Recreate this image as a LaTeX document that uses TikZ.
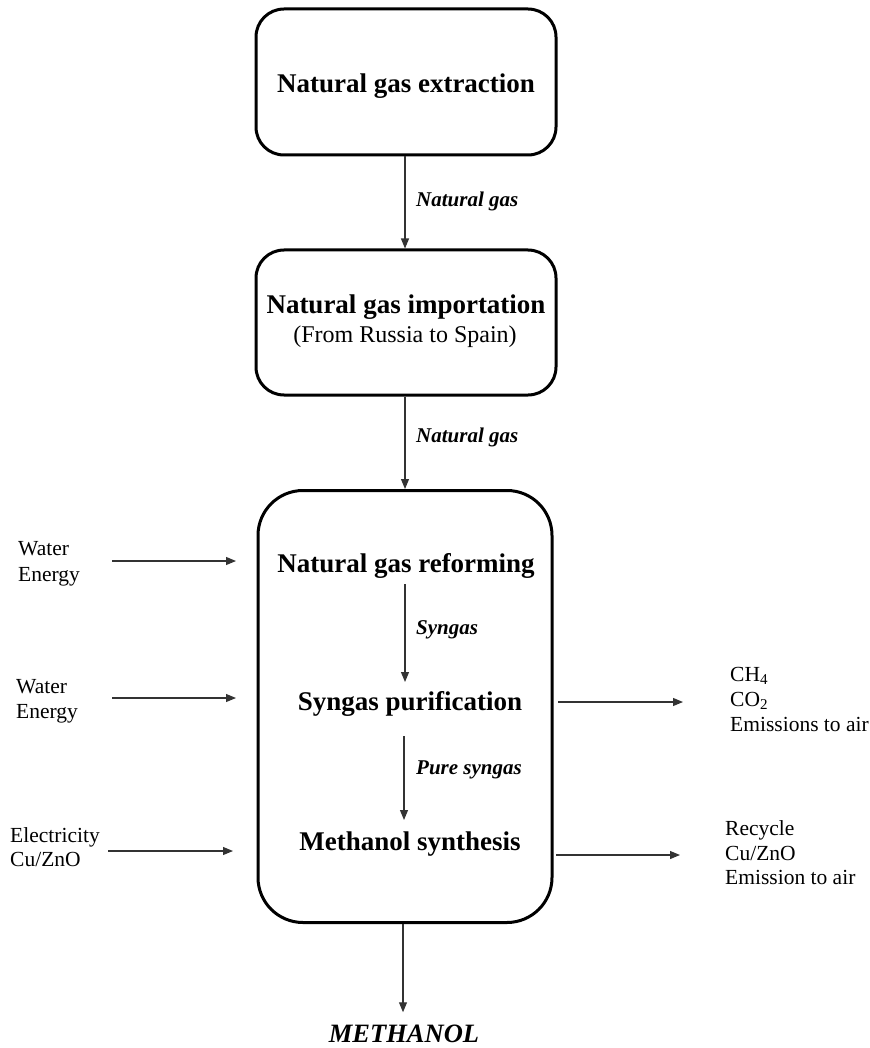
\documentclass[tikz,border=0pt]{standalone}
\usepackage{fontspec}
\setmainfont{Liberation Serif}
\usetikzlibrary{arrows.meta}
\begin{document}
\begin{tikzpicture}[x=1pt,y=-1pt,
  box/.style={draw, line width=3pt, inner sep=0pt},
  flow/.style={draw=black!80, line width=1.1pt, -{Triangle[length=10pt,width=8pt]}},
  ttl/.style={font=\fontsize{27}{32}\selectfont\bfseries, anchor=base, inner sep=0pt},
  lab/.style={font=\fontsize{21}{24}\selectfont\bfseries\itshape, anchor=base west, inner sep=0pt},
  side/.style={font=\fontsize{21.5}{25}\selectfont, anchor=base west, inner sep=0pt},
]
\useasboundingbox (0,0) rectangle (869,1048);

% boxes
\node[box, rounded corners=28pt, minimum width=300pt, minimum height=146pt] (b1) at (406,82) {};
\node[box, rounded corners=28pt, minimum width=300pt, minimum height=145pt] (b2) at (406,322.5) {};
\node[box, rounded corners=45pt, minimum width=294pt, minimum height=432pt] (b3) at (405,706.5) {};

% box texts
\node[ttl] (t1) at (406,93) {Natural gas extraction};
\node[ttl] (t2) at (406,313) {Natural gas importation};
\node[anchor=base, inner sep=0pt, font=\fontsize{24}{28}\selectfont] (t2b) at (405,342) {(From Russia to Spain)};
\node[ttl] (t3) at (406,572) {Natural gas reforming};
\node[ttl] (t4) at (410,710) {Syngas purification};
\node[ttl] (t5) at (410,850) {Methanol synthesis};
\node[anchor=base, inner sep=0pt, font=\fontsize{26.5}{30}\selectfont\bfseries\itshape] (meth) at (404,1042) {METHANOL};

% main vertical flows
\draw[flow] (b1.south -| 405,0) -- (b2.north -| 405,0);
\draw[flow] (b2.south -| 405,0) -- (b3.north -| 405,0);
\draw[flow, shorten >=12pt] (b3.south -| 403,0) -- (meth.north -| 403,0);
\node[lab] (l1) at (416,207) {Natural gas};
\node[lab] (l2) at (416,442) {Natural gas};

% internal flows
\coordinate (s1) at (405,584);
\coordinate (e1) at (405,682);
\coordinate (s2) at (404,736);
\coordinate (e2) at (404,820);
\draw[flow] (s1) -- (e1);
\draw[flow] (s2) -- (e2);
\node[lab] (l3) at (416,634) {Syngas};
\node[lab] (l4) at (416,774) {Pure syngas};

% inputs
\coordinate (i1s) at (112,561); \coordinate (i1e) at (236,561);
\coordinate (i2s) at (112,698); \coordinate (i2e) at (236,698);
\coordinate (i3s) at (108,851); \coordinate (i3e) at (233,851);
\draw[flow] (i1s) -- (i1e);
\draw[flow] (i2s) -- (i2e);
\draw[flow] (i3s) -- (i3e);
\node[side] (w1) at (18,555) {Water};
\node[side] (w1b) at (18,581) {Energy};
\node[side] (w2) at (16,693) {Water};
\node[side] (w2b) at (16,718) {Energy};
\node[side] (el) at (10,842) {Electricity};
\node[side] (cu1) at (10,866) {Cu/ZnO};

% outputs
\coordinate (o1s) at (558,702); \coordinate (o1e) at (683,702);
\coordinate (o2s) at (556,855); \coordinate (o2e) at (680,855);
\draw[flow] (o1s) -- (o1e);
\draw[flow] (o2s) -- (o2e);
\node[side] (ch) at (730,681) {CH\textsubscript{4}};
\node[side] (co) at (730,706) {CO\textsubscript{2}};
\node[side] (em1) at (730,731) {Emissions to air};
\node[side] (rc) at (725,835) {Recycle};
\node[side] (cu2) at (725,860) {Cu/ZnO};
\node[side] (em2) at (725,884) {Emission to air};
\end{tikzpicture}
\end{document}
